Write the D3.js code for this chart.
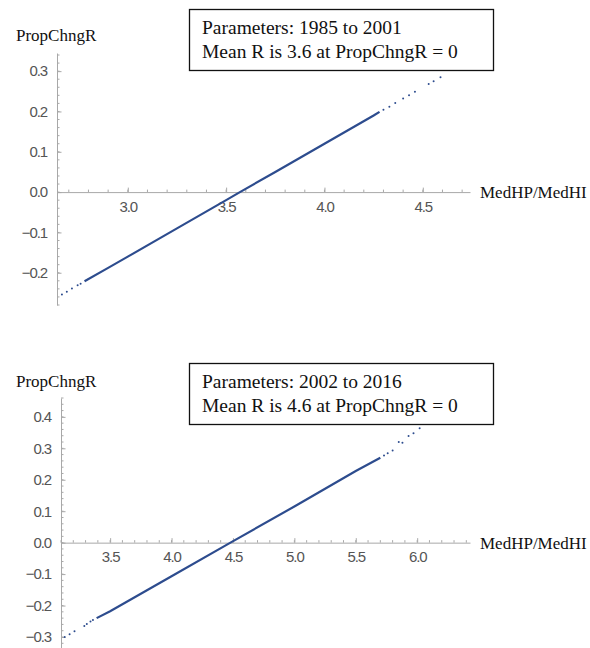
<!DOCTYPE html>
<html>
<head>
<meta charset="utf-8">
<script src="https://cdn.jsdelivr.net/npm/d3@7"></script>
<style>
  body { margin: 0; background: #fff; }
  .tick text { font-family: "Liberation Sans", Arial, sans-serif; font-size: 15px; fill: #555; letter-spacing: -1.1px; }
  .lab { font-family: "Liberation Serif", "Times New Roman", serif; font-size: 17px; fill: #111; }
  .box { font-family: "Liberation Serif", "Times New Roman", serif; font-size: 19.5px; fill: #111; }
</style>
</head>
<body>
<script>
// panel 1: 1985 to 2001
var p1Line = [[2.78,-0.221],[2.9,-0.188],[3.0,-0.160],[3.25,-0.090],[3.5,-0.020],[3.57,0.0],[3.75,0.050],[4.0,0.120],[4.25,0.190],[4.28,0.199]];
var p1Dots = [[2.665,-0.254],[2.69,-0.247],[2.716,-0.239],[2.745,-0.231],[2.76,-0.227],
              [4.30,0.204],[4.33,0.212],[4.36,0.221],[4.40,0.232],[4.43,0.240],[4.46,0.249],[4.53,0.268],[4.555,0.275],[4.59,0.285]];
var p1XTicks = [3.0, 3.5, 4.0, 4.5];
var p1YTicks = [-0.2, -0.1, 0.0, 0.1, 0.2, 0.3];
var p1Text = ["Parameters: 1985 to 2001", "Mean R is 3.6 at PropChngR = 0"];

// panel 2: 2002 to 2016
var p2Line = [[3.39,-0.240],[3.5,-0.218],[4.0,-0.107],[4.48,0.0],[5.0,0.115],[5.5,0.228],[5.70,0.270]];
var p2Dots = [[3.13,-0.300],[3.17,-0.291],[3.21,-0.282],[3.29,-0.265],[3.31,-0.259],[3.34,-0.251],[3.36,-0.246],
              [5.73,0.277],[5.76,0.284],[5.80,0.293],[5.85,0.320],[5.88,0.318],[5.93,0.339],[5.97,0.348],[6.02,0.364]];
var p2XTicks = [3.5, 4.0, 4.5, 5.0, 5.5, 6.0];
var p2YTicks = [-0.3, -0.2, -0.1, 0.0, 0.1, 0.2, 0.3, 0.4];
var p2Text = ["Parameters: 2002 to 2016", "Mean R is 4.6 at PropChngR = 0"];

var svg = d3.select("body").append("svg")
    .attr("width", 590)
    .attr("height", 648);

var lineColor = "#2d4c8e";
var axisColor = "#a8a8a8";

function panel(cfg) {
    var x = d3.scaleLinear().domain(cfg.xdom).range(cfg.xr);
    var y = d3.scaleLinear().domain(cfg.ydom).range(cfg.yr);
    var g = svg.append("g");

    // minor ticks
    var xMinor = d3.range(Math.ceil(cfg.xdom[0] * 10), Math.floor(cfg.xdom[1] * 10) + 1).map(function(d) { return d / 10; });
    g.selectAll(".xm").data(xMinor).enter().append("line")
        .attr("x1", function(d) { return x(d); }).attr("x2", function(d) { return x(d); })
        .attr("y1", y(0)).attr("y2", y(0) - 2.5)
        .attr("stroke", axisColor).attr("stroke-width", 1);
    var yMinor = d3.range(Math.ceil(cfg.ydom[0] * 50), Math.floor(cfg.ydom[1] * 50) + 1).map(function(d) { return d / 50; });
    g.selectAll(".ym").data(yMinor).enter().append("line")
        .attr("y1", function(d) { return y(d); }).attr("y2", function(d) { return y(d); })
        .attr("x1", x(cfg.xdom[0])).attr("x2", x(cfg.xdom[0]) + 2.5)
        .attr("stroke", axisColor).attr("stroke-width", 1);

    // X axis (at y = 0), ticks pointing up
    var xa = g.append("g")
        .attr("transform", "translate(0," + y(0) + ")")
        .call(d3.axisBottom(x).tickValues(cfg.xticks).tickFormat(d3.format(".1f"))
            .tickSizeInner(-4.5).tickSizeOuter(0).tickPadding(9));
    // Y axis at left edge, ticks pointing right
    var ya = g.append("g")
        .attr("transform", "translate(" + x(cfg.xdom[0]) + ",0)")
        .call(d3.axisLeft(y).tickValues(cfg.yticks).tickFormat(d3.format(".1f"))
            .tickSizeInner(-4.5).tickSizeOuter(0).tickPadding(10));
    [xa, ya].forEach(function(a) {
        a.select(".domain").attr("stroke", axisColor);
        a.selectAll(".tick line").attr("stroke", axisColor);
    });

    // the data
    var line = d3.line().x(function(d) { return x(d[0]); }).y(function(d) { return y(d[1]); });
    g.append("path").datum(cfg.line)
        .attr("d", line)
        .attr("fill", "none")
        .attr("stroke", lineColor)
        .attr("stroke-width", 2.2);
    g.selectAll(".dot").data(cfg.dots).enter().append("circle")
        .attr("cx", function(d) { return x(d[0]); })
        .attr("cy", function(d) { return y(d[1]); })
        .attr("r", 1)
        .attr("fill", lineColor);

    // axis labels
    g.append("text").attr("class", "lab").attr("x", 16).attr("y", cfg.ylabY).text("PropChngR");
    g.append("text").attr("class", "lab").attr("x", 480).attr("y", y(0) + 6).text("MedHP/MedHI");

    // annotation box
    g.append("rect")
        .attr("x", 189.5).attr("y", cfg.boxY + 0.5)
        .attr("width", 304).attr("height", 61)
        .attr("fill", "#fff").attr("stroke", "#111").attr("stroke-width", 1.3);
    g.selectAll(".bt").data(cfg.text).enter().append("text")
        .attr("class", "box")
        .attr("x", 202)
        .attr("y", function(d, i) { return cfg.boxY + 25 + i * 23.5; })
        .text(function(d) { return d; });
}

panel({xdom: [2.64, 4.74], xr: [57, 470], ydom: [-0.28, 0.345], yr: [305, 53],
       xticks: p1XTicks, yticks: p1YTicks, line: p1Line, dots: p1Dots, text: p1Text,
       ylabY: 41, boxY: 9});
panel({xdom: [3.1, 6.43], xr: [61, 470], ydom: [-0.335, 0.46], yr: [648, 398],
       xticks: p2XTicks, yticks: p2YTicks, line: p2Line, dots: p2Dots, text: p2Text,
       ylabY: 387, boxY: 363});
</script>
</body>
</html>
